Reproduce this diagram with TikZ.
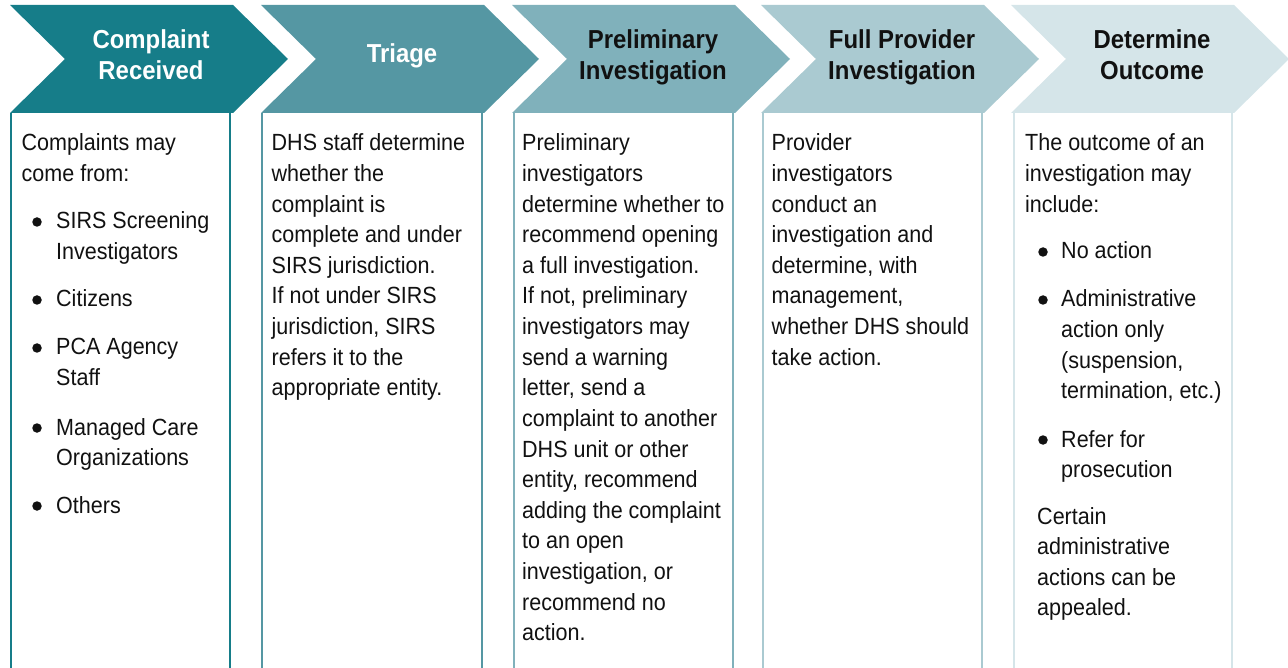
\documentclass[tikz,border=0pt]{standalone}
\usepackage{fontspec}
\setmainfont{Liberation Sans}[FakeStretch=0.92]
\definecolor{cA}{HTML}{167D89}
\definecolor{cB}{HTML}{5597A3}
\definecolor{cC}{HTML}{80B1BB}
\definecolor{cD}{HTML}{AACAD1}
\definecolor{cE}{HTML}{D5E5E9}
\definecolor{ink}{HTML}{111111}
\tikzset{
  body/.style={anchor=base west, inner sep=0pt, font=\fontsize{23.4}{28}\selectfont, text=ink},
  head/.style={anchor=base, inner sep=0pt, font=\fontsize{26}{31}\selectfont\bfseries},
  colline/.style={line width=2pt},
  bdot/.style={circle, fill=ink, inner sep=0pt, minimum size=9.5pt},
}
\newcommand\chev[2]{% left x, colour
  \fill[#2] (#1,5) -- ++(223,0) -- ++(55,54) -- ++(-55,54) -- ++(-223,0) -- ++(55,-54) -- cycle;}
\newcommand\blk[4]{% name, x, y0, lines
  \foreach \t [count=\k from 0] in {#4} {\node[body] (#1-\k) at (#2,{#3+30.6*\k}) {\t};}}
\begin{document}
\begin{tikzpicture}[x=1pt,y=-1pt]
\useasboundingbox (0,0) rectangle (1288,668);
% chevrons
\chev{10}{cA}
\chev{261}{cB}
\chev{512}{cC}
\chev{761}{cD}
\chev{1011}{cE}
% column borders
\draw[colline,cA] (11,113) -- (11,670);
\draw[colline,cA] (230,113) -- (230,670);
\draw[colline,cB] (262,113) -- (262,670);
\draw[colline,cB] (482,113) -- (482,670);
\draw[colline,cC] (513.5,113) -- (513.5,670);
\draw[colline,cC] (733,113) -- (733,670);
\draw[colline,cD] (762.5,113) -- (762.5,670);
\draw[colline,cD] (981.5,113) -- (981.5,670);
\draw[colline,cE] (1013.5,113) -- (1013.5,670);
\draw[colline,cE] (1232,113) -- (1232,670);
% headings
\node[head,text=white] (h1a) at (151,49) {Complaint};
\node[head,text=white] (h1b) at (151,80) {Received};
\node[head,text=white] (h2) at (402,63) {Triage};
\node[head,text=ink] (h3a) at (653,49) {Preliminary};
\node[head,text=ink] (h3b) at (653,80) {Investigation};
\node[head,text=ink] (h4a) at (902,49) {Full Provider};
\node[head,text=ink] (h4b) at (902,80) {Investigation};
\node[head,text=ink] (h5a) at (1152,49) {Determine};
\node[head,text=ink] (h5b) at (1152,80) {Outcome};
% column 1
\blk{a0}{21.5}{151}{Complaints may,come from:}
\node[bdot] (ab1) at (37,222) {};
\blk{a1}{56}{229}{SIRS Screening,Investigators}
\node[bdot] (ab2) at (37,300) {};
\blk{a2}{56}{307}{Citizens}
\node[bdot] (ab3) at (37,348) {};
\blk{a3}{56}{355}{PCA Agency,Staff}
\node[bdot] (ab4) at (37,428) {};
\blk{a4}{56}{435}{Managed Care,Organizations}
\node[bdot] (ab5) at (37,506) {};
\blk{a5}{56}{513}{Others}
% column 2
\blk{b0}{271.5}{151}{DHS staff determine,whether the,complaint is,complete and under,SIRS jurisdiction.,If not under SIRS,{jurisdiction, SIRS},refers it to the,appropriate entity.}
% column 3
\blk{c0}{522}{151}{Preliminary,investigators,determine whether to,recommend opening,a full investigation.,{If not, preliminary},investigators may,send a warning,{letter, send a},complaint to another,DHS unit or other,{entity, recommend},adding the complaint,to an open,{investigation, or},recommend no,action.}
% column 4
\blk{d0}{771.5}{151}{Provider,investigators,conduct an,investigation and,{determine, with},{management,},whether DHS should,take action.}
% column 5
\blk{e0}{1025}{151}{The outcome of an,investigation may,include:}
\node[bdot] (eb1) at (1043,252) {};
\blk{e1}{1061}{259}{No action}
\node[bdot] (eb2) at (1043,300) {};
\blk{e2}{1061}{307}{Administrative,action only,{(suspension,},{termination, etc.)}}
\node[bdot] (eb3) at (1043,440) {};
\blk{e3}{1061}{447}{Refer for,prosecution}
\blk{e4}{1037}{524}{Certain,administrative,actions can be,appealed.}
\end{tikzpicture}
\end{document}
